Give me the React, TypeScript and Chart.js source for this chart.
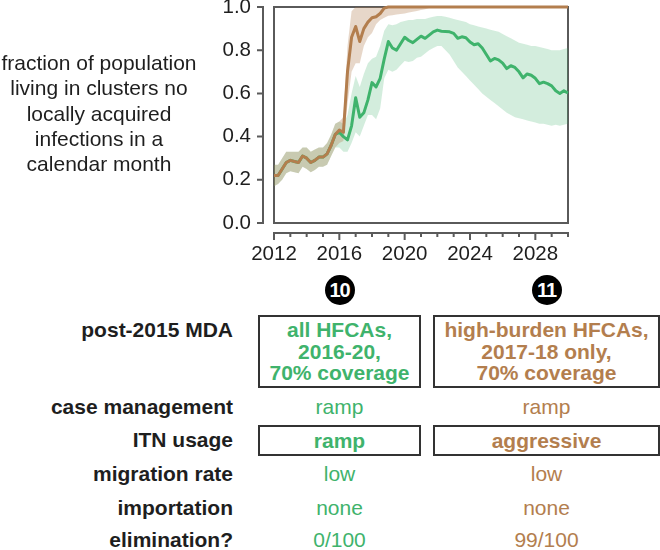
import React, { useEffect, useRef } from "react";
import { Chart, registerables } from "chart.js";

Chart.register(...registerables);

const YEARS = [
  2012, 2012.25, 2012.5, 2012.75, 2013, 2013.25, 2013.5, 2013.75, 2014, 2014.25, 2014.5, 2014.75,
  2015, 2015.25, 2015.5, 2015.75, 2016, 2016.25, 2016.5, 2016.75, 2017, 2017.25, 2017.5, 2017.75,
  2018, 2018.25, 2018.5, 2018.75, 2019, 2019.25, 2019.5, 2019.75, 2020, 2020.25, 2020.5, 2020.75,
  2021, 2021.25, 2021.5, 2021.75, 2022, 2022.25, 2022.5, 2022.75, 2023, 2023.25, 2023.5, 2023.75,
  2024, 2024.25, 2024.5, 2024.75, 2025, 2025.25, 2025.5, 2025.75, 2026, 2026.25, 2026.5, 2026.75,
  2027, 2027.25, 2027.5, 2027.75, 2028, 2028.25, 2028.5, 2028.75, 2029, 2029.25, 2029.5, 2029.75,
  2030,
];

const BROWN_MEAN = [
  0.22, 0.22, 0.25, 0.28, 0.29, 0.285, 0.28, 0.31, 0.3, 0.28, 0.29, 0.305,
  0.305, 0.32, 0.36, 0.41, 0.43, 0.42, 0.7, 0.86, 0.91, 0.84, 0.9, 0.93,
  0.95, 0.955, 0.97, 0.995, 1, 1, 1, 1, 1, 1, 1, 1,
  1, 1, 1, 1, 1, 1, 1, 1, 1, 1, 1, 1,
  1, 1, 1, 1, 1, 1, 1, 1, 1, 1, 1, 1,
  1, 1, 1, 1, 1, 1, 1, 1, 1, 1, 1, 1,
  1,
];
const BROWN_LO = [
  0.17, 0.18, 0.2, 0.23, 0.24, 0.235, 0.23, 0.26, 0.25, 0.235, 0.245, 0.26,
  0.26, 0.27, 0.31, 0.35, 0.37, 0.38, 0.55, 0.7, 0.74, 0.74, 0.82, 0.86,
  0.88, 0.92, 0.94, 0.95, 0.96, 0.962, 0.965, 0.968, 0.97, 0.975, 0.978, 0.982,
  0.986, 0.99, 0.995, 1, 1, 1, 1, 1, 1, 1, 1, 1,
  1, 1, 1, 1, 1, 1, 1, 1, 1, 1, 1, 1,
  1, 1, 1, 1, 1, 1, 1, 1, 1, 1, 1, 1,
  1,
];
const BROWN_HI = [
  0.27, 0.27, 0.3, 0.33, 0.33, 0.33, 0.33, 0.35, 0.35, 0.33, 0.34, 0.35,
  0.35, 0.37, 0.41, 0.46, 0.47, 0.49, 0.82, 0.98, 1, 1, 1, 1,
  1, 1, 1, 1, 1, 1, 1, 1, 1, 1, 1, 1,
  1, 1, 1, 1, 1, 1, 1, 1, 1, 1, 1, 1,
  1, 1, 1, 1, 1, 1, 1, 1, 1, 1, 1, 1,
  1, 1, 1, 1, 1, 1, 1, 1, 1, 1, 1, 1,
  1,
];

const GREEN_MEAN = [
  0.22, 0.22, 0.25, 0.28, 0.29, 0.285, 0.28, 0.31, 0.3, 0.28, 0.29, 0.305,
  0.305, 0.32, 0.36, 0.41, 0.42, 0.4, 0.385, 0.45, 0.58, 0.49, 0.51, 0.57,
  0.65, 0.63, 0.67, 0.76, 0.84, 0.81, 0.8, 0.83, 0.86, 0.845, 0.835, 0.85,
  0.865, 0.855, 0.87, 0.885, 0.893, 0.888, 0.887, 0.885, 0.878, 0.855, 0.862, 0.858,
  0.838, 0.825, 0.83, 0.81, 0.78, 0.75, 0.762, 0.755, 0.74, 0.715, 0.728, 0.72,
  0.7, 0.672, 0.69, 0.684, 0.67, 0.645, 0.652, 0.645, 0.635, 0.612, 0.6, 0.612,
  0.602,
];
const GREEN_LO = [
  0.17, 0.18, 0.2, 0.23, 0.24, 0.235, 0.23, 0.26, 0.25, 0.235, 0.245, 0.26,
  0.26, 0.27, 0.31, 0.35, 0.35, 0.33, 0.33, 0.37, 0.42, 0.4, 0.45, 0.5,
  0.5, 0.48, 0.53, 0.67, 0.71, 0.7, 0.71, 0.73, 0.75, 0.745, 0.75, 0.765,
  0.77, 0.785, 0.8, 0.81, 0.82, 0.82, 0.8, 0.78, 0.75, 0.72, 0.7, 0.68,
  0.66, 0.64, 0.62, 0.6, 0.585, 0.57, 0.555, 0.54, 0.525, 0.51, 0.5, 0.49,
  0.485, 0.48, 0.475, 0.47, 0.465, 0.46, 0.46, 0.455, 0.45, 0.455, 0.45, 0.455,
  0.46,
];
const GREEN_HI = [
  0.27, 0.27, 0.3, 0.33, 0.33, 0.33, 0.33, 0.35, 0.35, 0.33, 0.34, 0.35,
  0.35, 0.37, 0.41, 0.46, 0.47, 0.46, 0.5, 0.6, 0.68, 0.63, 0.69, 0.74,
  0.76, 0.77, 0.82, 0.89, 0.92, 0.915, 0.92, 0.93, 0.935, 0.94, 0.94, 0.945,
  0.945, 0.945, 0.95, 0.955, 0.958, 0.958, 0.955, 0.95, 0.945, 0.94, 0.935, 0.93,
  0.92, 0.915, 0.91, 0.905, 0.9, 0.895, 0.89, 0.885, 0.875, 0.865, 0.855, 0.845,
  0.835, 0.83, 0.825, 0.82, 0.82, 0.815, 0.81, 0.805, 0.8, 0.8, 0.8, 0.805,
  0.81,
];

const Y_TITLE_LINES = [
  "fraction of population",
  "living in clusters no",
  "locally acquired",
  "infections in a",
  "calendar month",
];

const SCENARIO_IDS = ["10", "11"];
const ROW_LABELS = [
  "post-2015 MDA",
  "case management",
  "ITN usage",
  "migration rate",
  "importation",
  "elimination?",
];
const COL10_VALUES = [
  ["all HFCAs,", "2016-20,", "70% coverage"],
  ["ramp"],
  ["ramp"],
  ["low"],
  ["none"],
  ["0/100"],
];
const COL11_VALUES = [
  ["high-burden HFCAs,", "2017-18 only,", "70% coverage"],
  ["ramp"],
  ["aggressive"],
  ["low"],
  ["none"],
  ["99/100"],
];
const BOXED_ROWS = [0, 2];

const GREEN = "#3fb36c";
const BROWN = "#b37e4e";
const GREEN_BAND = "rgba(63,179,108,0.23)";
const BROWN_BAND = "rgba(176,124,77,0.30)";
const AXIS = "#5a5a5a";
const TEXT = "#1e1e1e";
const FONT = "'Liberation Sans', Arial, Helvetica, sans-serif";

const pts = (arr: number[]) => YEARS.map((x, i) => ({ x, y: arr[i] }));

const rAxesPlugin = {
  id: "rAxes",
  beforeDatasetsDraw(chart: any) {
    const { ctx, chartArea: a } = chart;
    ctx.save();
    ctx.strokeStyle = AXIS;
    ctx.lineWidth = 2;
    ctx.strokeRect(a.left, a.top, a.right - a.left, a.bottom - a.top);
    ctx.restore();
  },
  afterDraw(chart: any) {
    const { ctx } = chart;
    const xs = chart.scales.x;
    const ys = chart.scales.y;
    ctx.save();
    ctx.strokeStyle = AXIS;
    ctx.lineWidth = 2;
    ctx.lineCap = "butt";
    const ax = chart.chartArea.left - 11;
    ctx.beginPath();
    ctx.moveTo(ax, ys.getPixelForValue(ys.min) + 1);
    ctx.lineTo(ax, ys.getPixelForValue(ys.max) - 1);
    for (const t of ys.ticks) {
      const p = ys.getPixelForValue(t.value);
      ctx.moveTo(ax, p);
      ctx.lineTo(ax - 6, p);
    }
    ctx.stroke();
    const ay = chart.chartArea.bottom + 10;
    ctx.beginPath();
    ctx.moveTo(xs.getPixelForValue(xs.min) - 1, ay);
    ctx.lineTo(xs.getPixelForValue(xs.max) + 1, ay);
    for (const t of xs.ticks) {
      const p = xs.getPixelForValue(t.value);
      const major = (t.value - 2012) % 4 === 0;
      ctx.moveTo(p, ay);
      ctx.lineTo(p, ay + (major ? 7 : 4));
    }
    ctx.stroke();
    ctx.restore();
  },
};

function ChartCanvas() {
  const ref = useRef<HTMLCanvasElement | null>(null);
  useEffect(() => {
    if (!ref.current) return;
    const chart = new Chart(ref.current, {
      type: "line",
      data: {
        datasets: [
          { data: pts(BROWN_MEAN), borderColor: BROWN, borderWidth: 3, fill: false, clip: false as any },
          { data: pts(GREEN_MEAN), borderColor: GREEN, borderWidth: 3, fill: false, clip: false as any },
          { data: pts(BROWN_HI), borderWidth: 0, borderColor: "rgba(0,0,0,0)", backgroundColor: BROWN_BAND, fill: "+1" },
          { data: pts(BROWN_LO), borderWidth: 0, borderColor: "rgba(0,0,0,0)", fill: false },
          { data: pts(GREEN_HI), borderWidth: 0, borderColor: "rgba(0,0,0,0)", backgroundColor: GREEN_BAND, fill: "+1" },
          { data: pts(GREEN_LO), borderWidth: 0, borderColor: "rgba(0,0,0,0)", fill: false },
        ] as any,
      },
      options: {
        animation: false,
        responsive: false,
        events: [],
        layout: { padding: { left: 214, right: 92, top: 7, bottom: 7 } },
        elements: { point: { radius: 0 }, line: { tension: 0, borderJoinStyle: "round" } },
        plugins: { legend: { display: false }, tooltip: { enabled: false } },
        scales: {
          x: {
            type: "linear",
            min: 2012,
            max: 2030,
            grid: { display: false, drawTicks: false },
            border: { display: false },
            ticks: {
              stepSize: 1,
              autoSkip: false,
              maxRotation: 0,
              padding: 19,
              color: TEXT,
              font: { family: FONT, size: 20.5 },
              callback: (v: any) => ((Number(v) - 2012) % 4 === 0 ? String(v) : ""),
            },
            afterFit: (s: any) => {
              s.height = 40;
              s.paddingLeft = 0;
              s.paddingRight = 0;
            },
          },
          y: {
            type: "linear",
            min: 0,
            max: 1,
            grid: { display: false, drawTicks: false },
            border: { display: false },
            ticks: {
              stepSize: 0.2,
              padding: 23,
              color: TEXT,
              font: { family: FONT, size: 20.5 },
              callback: (v: any) => Number(v).toFixed(1),
            },
            afterFit: (s: any) => {
              s.width = 60;
              s.paddingTop = 0;
              s.paddingBottom = 0;
            },
          },
        },
      } as any,
      plugins: [rAxesPlugin],
    });
    return () => chart.destroy();
  }, []);
  return (
    <canvas
      ref={ref}
      width={660}
      height={270}
      style={{ position: "absolute", left: 0, top: 0, width: 660, height: 270, display: "block" }}
    />
  );
}

const COL_X = [258, 433];
const COL_W = [163, 227];
const ROW_Y = [330, 407, 440, 474, 508, 540];
const BOX_TOP = [315, 0, 425];
const BOX_H = [73, 0, 31];

export default function App() {
  const cols = [COL10_VALUES, COL11_VALUES];
  const colColors = [GREEN, BROWN];
  return (
    <div
      style={{
        position: "absolute",
        left: 0,
        top: 0,
        width: 660,
        height: 550,
        overflow: "hidden",
        background: "#fff",
        fontFamily: FONT,
        color: TEXT,
      }}
    >
      <ChartCanvas />
      <div
        style={{
          position: "absolute",
          left: 0,
          top: 50,
          width: 198,
          textAlign: "center",
          fontSize: 21,
          lineHeight: "25.3px",
          whiteSpace: "nowrap",
        }}
      >
        {Y_TITLE_LINES.map((l, i) => (
          <div key={i}>{l}</div>
        ))}
      </div>
      {SCENARIO_IDS.map((id, i) => (
        <div
          key={id}
          style={{
            position: "absolute",
            left: COL_X[i] + COL_W[i] / 2 - 15,
            top: 290 - 15,
            width: 30,
            height: 30,
            borderRadius: "50%",
            background: "#000",
            color: "#fff",
            fontWeight: "bold",
            fontSize: 20,
            letterSpacing: -1,
            lineHeight: "30px",
            textAlign: "center",
          }}
        >
          {id}
        </div>
      ))}
      {ROW_LABELS.map((lab, r) => (
        <div
          key={lab}
          style={{
            position: "absolute",
            right: 660 - 233,
            top: ROW_Y[r] - 12,
            height: 24,
            lineHeight: "24px",
            fontSize: 21,
            fontWeight: "bold",
            whiteSpace: "nowrap",
            textAlign: "right",
          }}
        >
          {lab}
        </div>
      ))}
      {cols.map((vals, c) =>
        vals.map((lines, r) => {
          const boxed = BOXED_ROWS.includes(r);
          if (boxed) {
            return (
              <div
                key={c + "-" + r}
                style={{
                  position: "absolute",
                  left: COL_X[c],
                  top: BOX_TOP[r],
                  width: COL_W[c],
                  height: BOX_H[r],
                  boxSizing: "border-box",
                  border: "2px solid #333",
                  display: "flex",
                  flexDirection: "column",
                  justifyContent: "center",
                  alignItems: "center",
                  color: colColors[c],
                  fontWeight: "bold",
                  fontSize: 21,
                  lineHeight: "21.5px",
                  whiteSpace: "nowrap",
                }}
              >
                {lines.map((l, k) => (
                  <div key={k}>{l}</div>
                ))}
              </div>
            );
          }
          return (
            <div
              key={c + "-" + r}
              style={{
                position: "absolute",
                left: COL_X[c],
                width: COL_W[c],
                top: ROW_Y[r] - 12,
                height: 24,
                lineHeight: "24px",
                fontSize: 21,
                textAlign: "center",
                color: colColors[c],
                whiteSpace: "nowrap",
              }}
            >
              {lines[0]}
            </div>
          );
        })
      )}
    </div>
  );
}
